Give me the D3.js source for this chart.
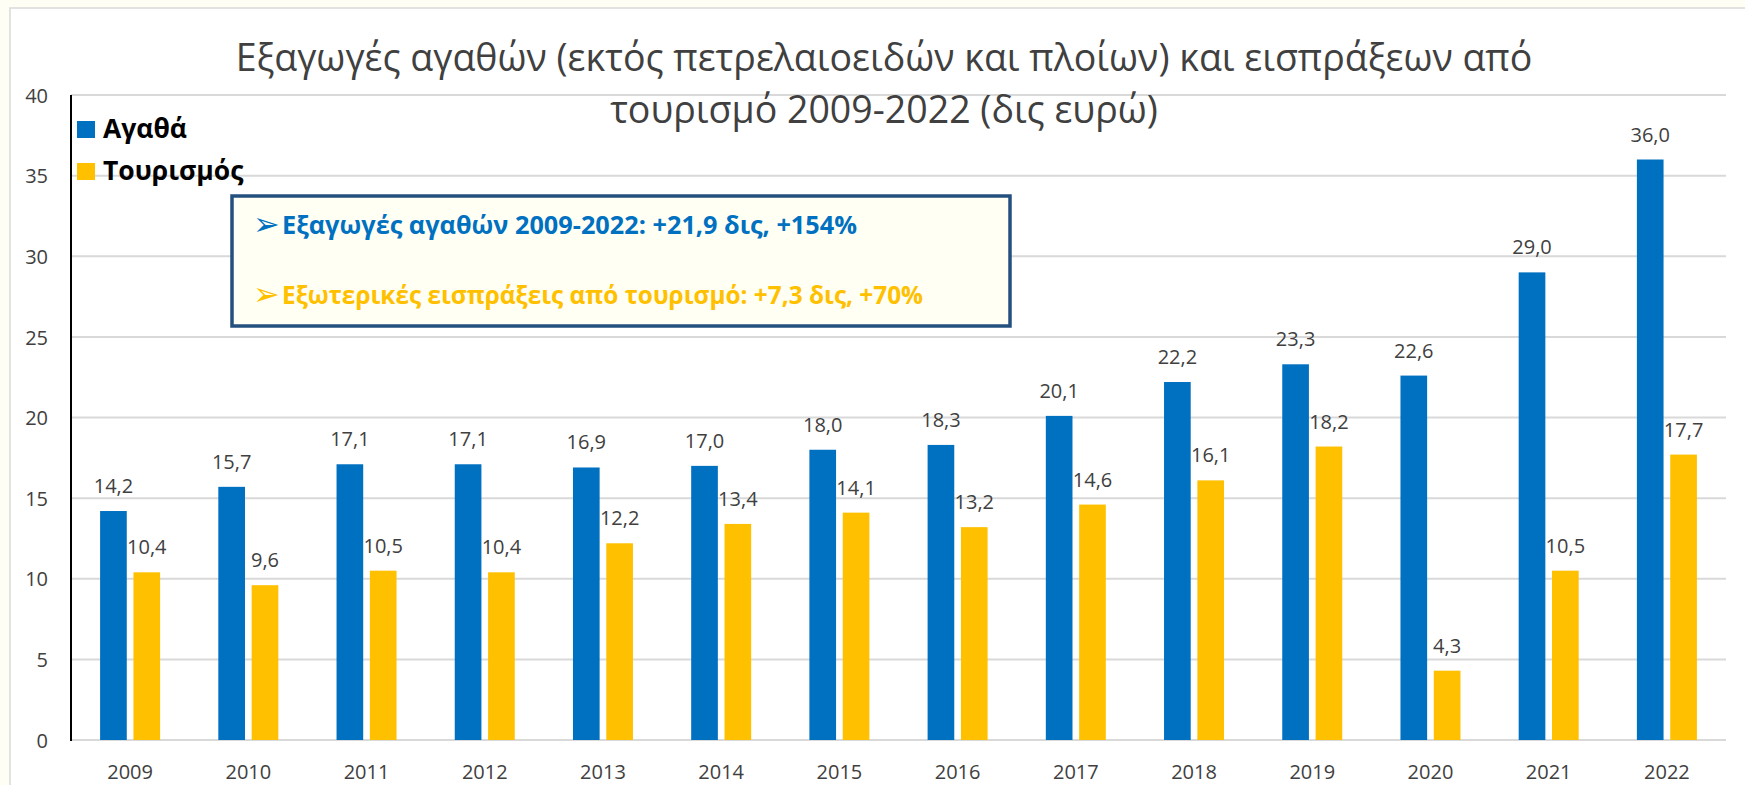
<!DOCTYPE html>
<html>
<head>
<meta charset="utf-8">
<script src="https://cdn.jsdelivr.net/npm/d3@7"></script>
<style>
  html, body { margin: 0; padding: 0; background: #fefef4; }
  svg { display: block; }
  text { font-family: "Open Sans", "DejaVu Sans", sans-serif; }
</style>
</head>
<body>
<svg id="chart" width="1745" height="785"></svg>
<script>
const years = ["2009","2010","2011","2012","2013","2014","2015","2016","2017","2018","2019","2020","2021","2022"];
const goods = [14.2, 15.7, 17.1, 17.1, 16.9, 17.0, 18.0, 18.3, 20.1, 22.2, 23.3, 22.6, 29.0, 36.0];
const tourism = [10.4, 9.6, 10.5, 10.4, 12.2, 13.4, 14.1, 13.2, 14.6, 16.1, 18.2, 4.3, 10.5, 17.7];
const seriesNames = ["Αγαθά", "Τουρισμός"];
const seriesColors = ["#0070C0", "#FFC000"];
const yTicks = [0, 5, 10, 15, 20, 25, 30, 35, 40];
const titleLines = ["Εξαγωγές αγαθών (εκτός πετρελαιοειδών και πλοίων) και εισπράξεων από", "τουρισμό 2009-2022 (δις ευρώ)"];
const noteLines = ["Εξαγωγές αγαθών 2009-2022: +21,9 δις, +154%", "Εξωτερικές εισπράξεις από τουρισμό: +7,3 δις, +70%"];

(function () {
const svg = d3.select("#chart");

// chart area
svg.append("rect").attr("x", 10).attr("y", 8).attr("width", 1745).attr("height", 800)
  .attr("fill", "#ffffff").attr("stroke", "#d9d9d9").attr("stroke-width", 1.5);

const pL = 71, pR = 1726, pT = 95, pB = 740;
const x = d3.scaleBand().domain(years).range([pL, pR]).paddingInner(0).paddingOuter(0);
const x1 = d3.scaleBand().domain(seriesNames).range([-30, 30]).paddingInner(0.2);
const y = d3.scaleLinear().domain([0, 40]).range([pB, pT]);

// gridlines
svg.append("g").selectAll("line").data(yTicks).join("line")
  .attr("x1", pL).attr("x2", pR)
  .attr("y1", d => y(d)).attr("y2", d => y(d))
  .attr("stroke", "#d9d9d9").attr("stroke-width", 2);

// y axis labels
const yAxis = d3.axisLeft(y).tickValues(yTicks).tickSize(0).tickPadding(0).tickFormat(d3.format("d"));
const yg = svg.append("g").attr("transform", `translate(48,0)`).call(yAxis);
yg.select(".domain").remove();
yg.selectAll("text").attr("font-size", 20).attr("fill", "#404040")
  .attr("font-family", "'Open Sans', sans-serif").attr("dy", "0.36em");

// x axis labels
const xAxis = d3.axisBottom(x).tickSize(0).tickPadding(0);
const xg = svg.append("g").attr("transform", `translate(0,${pB})`).call(xAxis);
xg.select(".domain").remove();
xg.selectAll("text").attr("font-size", 20).attr("fill", "#404040")
  .attr("font-family", "'Open Sans', sans-serif").attr("dy", null).attr("y", 39);

// bars
const data = years.map((yr, i) => ({ year: yr, values: [goods[i], tourism[i]] }));
const groups = svg.append("g").selectAll("g").data(data).join("g")
  .attr("transform", d => `translate(${x(d.year) + x.bandwidth() / 2},0)`);
groups.selectAll("rect").data(d => d.values.map((v, k) => ({ v, k }))).join("rect")
  .attr("x", d => x1(seriesNames[d.k]))
  .attr("width", x1.bandwidth())
  .attr("y", d => y(d.v))
  .attr("height", d => y(0) - y(d.v))
  .attr("fill", d => seriesColors[d.k]);
groups.selectAll("text.lbl").data(d => d.values.map((v, k) => ({ v, k }))).join("text")
  .attr("class", "lbl")
  .attr("x", d => x1(seriesNames[d.k]) + x1.bandwidth() / 2)
  .attr("y", d => y(d.v) - 18)
  .attr("text-anchor", "middle")
  .attr("font-size", 20).attr("fill", "#404040")
  .text(d => d3.format(".1f")(d.v).replace(".", ","));

// y axis line
svg.append("line").attr("x1", pL).attr("x2", pL).attr("y1", pT).attr("y2", pB + 1)
  .attr("stroke", "#000").attr("stroke-width", 2);

// title
svg.append("g").selectAll("text").data(titleLines).join("text")
  .attr("x", 884).attr("y", (d, i) => 71 + i * 52)
  .attr("text-anchor", "middle").attr("font-size", 37.5).attr("fill", "#404040")
  .text(d => d);

// legend
const lg = svg.append("g").selectAll("g").data(seriesNames).join("g")
  .attr("transform", (d, i) => `translate(77,${121 + i * 42})`);
lg.append("rect").attr("width", 18).attr("height", 17).attr("fill", (d, i) => seriesColors[i]);
lg.append("text").attr("x", 26).attr("y", 17).attr("font-size", 26.5).attr("font-weight", "bold")
  .attr("fill", "#000").text(d => d);

// annotation box
svg.append("rect").attr("x", 232).attr("y", 196).attr("width", 778).attr("height", 130)
  .attr("fill", "#fffff4").attr("stroke", "#24507f").attr("stroke-width", 3.5);
const noteWidths = [575, 641];
const notes = svg.append("g").selectAll("g").data(noteLines).join("g")
  .attr("transform", (d, i) => `translate(253,${234 + i * 70})`);
notes.append("text").attr("x", 0).attr("y", 1).attr("font-size", 32)
  .attr("font-family", "'DejaVu Sans', sans-serif")
  .attr("fill", (d, i) => seriesColors[i]).text("➢");
notes.append("text").attr("x", 29).attr("y", 0).attr("font-size", 25.3).attr("font-weight", "bold")
  .attr("textLength", (d, i) => noteWidths[i]).attr("lengthAdjust", "spacingAndGlyphs")
  .attr("fill", (d, i) => seriesColors[i]).text(d => d);
})();
</script>
</body>
</html>
